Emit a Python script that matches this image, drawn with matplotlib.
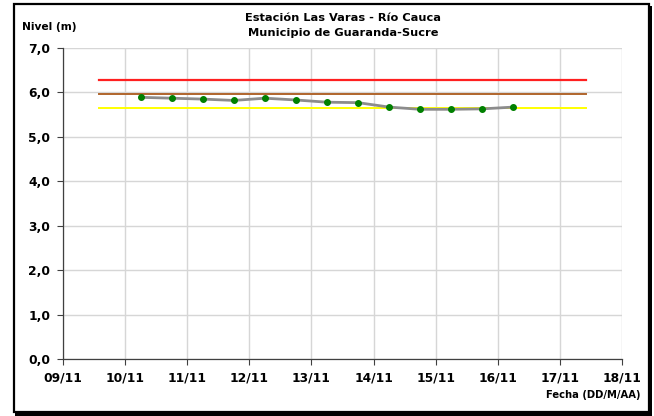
import numpy as np
import matplotlib
matplotlib.use("Agg")
import matplotlib.pyplot as plt
import matplotlib.dates as mdates
from matplotlib.patches import Rectangle

# --- datos ---
fechas = np.array([
    "2010-11-10T06:00", "2010-11-10T18:00", "2010-11-11T06:00", "2010-11-11T18:00",
    "2010-11-12T06:00", "2010-11-12T18:00", "2010-11-13T06:00", "2010-11-13T18:00",
    "2010-11-14T06:00", "2010-11-14T18:00", "2010-11-15T06:00", "2010-11-15T18:00",
    "2010-11-16T06:00",
], dtype="datetime64[m]")
nivel = [5.89, 5.87, 5.85, 5.82, 5.87, 5.83, 5.78, 5.77, 5.67, 5.62, 5.62, 5.63, 5.67]

# umbrales (roja, naranja/marrón, amarilla)
umbral_x = np.array(["2010-11-09T14:00", "2010-11-17T10:00"], dtype="datetime64[m]")
umbral_rojo = 6.27
umbral_marron = 5.96
umbral_amarillo = 5.66

x_ticks = np.arange(np.datetime64("2010-11-09"), np.datetime64("2010-11-19"),
                    np.timedelta64(1, "D"))
y_ticks = [0, 1, 2, 3, 4, 5, 6, 7]

plt.rcParams["font.family"] = ["DejaVu Sans"]
plt.rcParams["font.weight"] = "bold"

W, H = 654, 416
fig = plt.figure(figsize=(W / 100, H / 100), dpi=100)
ax = fig.add_axes([63 / W, 1 - 359 / H, (622 - 63) / W, (359 - 48) / H])

# marco exterior con sombra
fig.patches.append(Rectangle((15 / W, 1 - 416 / H), 637 / W, 410 / H,
                             transform=fig.transFigure, facecolor="black",
                             edgecolor="none", zorder=-3))
fig.patches.append(Rectangle((13.5 / W, 1 - 412 / H), 635 / W, 408.5 / H,
                             transform=fig.transFigure, facecolor="white",
                             edgecolor="black", linewidth=1.6, zorder=-2))
ax.set_facecolor("white")

ax.plot(umbral_x, [umbral_rojo] * 2, color="#ff2020", lw=1.6, zorder=3)
ax.plot(umbral_x, [umbral_marron] * 2, color="#b0652c", lw=1.4, zorder=3)
ax.plot(umbral_x, [umbral_amarillo] * 2, color="#ffff00", lw=1.4, zorder=3)
ax.plot(fechas, nivel, color="#8c8c8c", lw=2.0, zorder=4, solid_capstyle="round")
ax.plot(fechas, nivel, ls="none", marker="o", ms=4.0, color="#008000", zorder=5)

ax.set_xlim(x_ticks[0], x_ticks[-1])
ax.set_ylim(0, 7)
ax.set_xticks(x_ticks)
ax.xaxis.set_major_formatter(mdates.DateFormatter("%d/%m"))
ax.set_yticks(y_ticks)
ax.set_yticklabels([f"{v:.1f}".replace(".", ",") for v in y_ticks])
ax.tick_params(axis="both", direction="out", length=4, width=0.8, color="#404040",
               labelsize=8.8)
ax.tick_params(axis="x", pad=4.8)
ax.tick_params(axis="y", pad=5.3)
ax.grid(True, color="#d6d6d6", lw=1.0)
ax.set_axisbelow(True)
for s in ["top", "right"]:
    ax.spines[s].set_visible(False)
for s in ["left", "bottom"]:
    ax.spines[s].set_color("#404040")
    ax.spines[s].set_linewidth(0.9)

fig.text(343 / W, 1 - 18 / H, "Estación Las Varas - Río Cauca", ha="center",
         va="center", fontsize=8.2)
fig.text(343 / W, 1 - 33 / H, "Municipio de Guaranda-Sucre", ha="center",
         va="center", fontsize=8.2)
fig.text(22 / W, 1 - 27 / H, "Nivel (m)", ha="left", va="center", fontsize=7.7)
fig.text(641 / W, 1 - 395 / H, "Fecha (DD/M/AA)", ha="right", va="center",
         fontsize=7.2)

fig.savefig("out.png", dpi=100)
